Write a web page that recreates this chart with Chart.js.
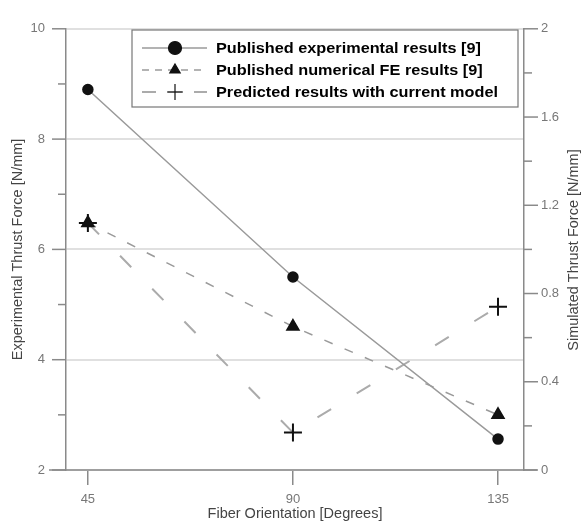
<!DOCTYPE html>
<html>
<head>
<meta charset="utf-8">
<script src="https://cdn.jsdelivr.net/npm/chart.js@4.4.1/dist/chart.umd.min.js"></script>
<style>
  html, body { margin: 0; padding: 0; background: #fff; }
  #wrap { width: 581px; height: 523px; }
</style>
</head>
<body>
<div id="wrap"><canvas id="chart" width="581" height="523"></canvas></div>
<script>
// DATA
const angles = [45, 90, 135];
const experimental = [8.9, 5.5, 2.56];   // left axis
const numericalFE = [6.48, 4.6, 3.0];    // left axis
const predicted = [1.12, 0.17, 0.74];    // right axis
const legendLabels = [
  'Published experimental results [9]',
  'Published numerical FE results [9]',
  'Predicted results with current model'
];
const xTitle = 'Fiber Orientation [Degrees]';
const leftTitle = 'Experimental Thrust Force [N/mm]';
const rightTitle = 'Simulated Thrust Force [N/mm]';

const pts = arr => angles.map((a, i) => ({x: a, y: arr[i]}));
const axisGray = '#8a8a8a';

// extra drawing: minor/major ticks on y axes, long x axis line, legend box, right title
const decor = {
  id: 'decor',
  afterDraw(chart) {
    const ctx = chart.ctx;
    const area = chart.chartArea;
    const yL = chart.scales.yL, yR = chart.scales.yR;
    ctx.save();
    ctx.strokeStyle = axisGray;
    ctx.lineWidth = 1.5;
    // y ticks
    yL.ticks.forEach(t => {
      const y = yL.getPixelForValue(t.value);
      const len = Math.round(t.value) % 2 === 0 ? 14 : 8;
      ctx.beginPath(); ctx.moveTo(area.left - len, y); ctx.lineTo(area.left, y); ctx.stroke();
    });
    yR.ticks.forEach(t => {
      const y = yR.getPixelForValue(t.value);
      const len = Math.round(t.value * 10) % 4 === 0 ? 14 : 8;
      ctx.beginPath(); ctx.moveTo(area.right, y); ctx.lineTo(area.right + len, y); ctx.stroke();
    });
    // x axis line runs past both y axes
    ctx.beginPath(); ctx.moveTo(area.left - 17, area.bottom); ctx.lineTo(area.right + 13, area.bottom); ctx.stroke();

    // right title, reads bottom to top like the left one
    ctx.fillStyle = '#444';
    ctx.font = '14.5px Arial, "Liberation Sans", sans-serif';
    ctx.textAlign = 'center';
    ctx.textBaseline = 'middle';
    ctx.translate(574, 250);
    ctx.rotate(-Math.PI / 2);
    ctx.fillText(rightTitle, 0, 0);
    ctx.restore();

    // legend
    ctx.save();
    ctx.strokeStyle = '#777';
    ctx.lineWidth = 1.2;
    ctx.strokeRect(132, 30, 386, 77);
    ctx.font = 'bold 15px Arial, "Liberation Sans", sans-serif';
    const sx = 282 / ctx.measureText(legendLabels[2]).width;
    chart.data.datasets.forEach((ds, i) => {
      const y = 48 + i * 22;
      ctx.save();
      ctx.strokeStyle = ds.borderColor;
      ctx.lineWidth = ds.borderWidth;
      ctx.setLineDash(i === 0 ? [] : i === 1 ? [7, 6] : [14, 12]);
      ctx.beginPath(); ctx.moveTo(142, y); ctx.lineTo(207, y); ctx.stroke();
      ctx.restore();
      ctx.fillStyle = '#111';
      ctx.strokeStyle = '#111';
      Chart.helpers.drawPoint(ctx, {
        pointStyle: ds.pointStyle,
        radius: i === 0 ? 6.5 : ds.pointRadius - 1,
        borderWidth: ds.pointBorderWidth || 1,
        rotation: 0
      }, 175, y);
      ctx.save();
      ctx.fillStyle = '#000';
      ctx.textAlign = 'left';
      ctx.textBaseline = 'middle';
      ctx.translate(216, y + 1);
      ctx.scale(sx, 1);
      ctx.fillText(legendLabels[i], 0, 0);
      ctx.restore();
    });
    ctx.restore();
  }
};

new Chart(document.getElementById('chart'), {
  type: 'line',
  data: {
    datasets: [
      {
        label: legendLabels[0], data: pts(experimental), yAxisID: 'yL',
        borderColor: '#9a9a9a', borderWidth: 1.5,
        pointStyle: 'circle', pointRadius: 5,
        pointBackgroundColor: '#111', pointBorderColor: '#111'
      },
      {
        label: legendLabels[1], data: pts(numericalFE), yAxisID: 'yL',
        borderColor: '#9a9a9a', borderWidth: 1.5, borderDash: [9, 13],
        pointStyle: 'triangle', pointRadius: 7,
        pointBackgroundColor: '#111', pointBorderColor: '#111'
      },
      {
        label: legendLabels[2], data: pts(predicted), yAxisID: 'yR',
        borderColor: '#ababab', borderWidth: 2, borderDash: [16, 30],
        pointStyle: 'cross', pointRadius: 9, pointBorderWidth: 2,
        pointBackgroundColor: '#111', pointBorderColor: '#111'
      }
    ]
  },
  options: {
    responsive: false,
    animation: false,
    layout: { padding: { top: 16, left: 0, right: 0, bottom: 0 } },
    plugins: { legend: { display: false }, tooltip: { enabled: false } },
    scales: {
      x: {
        type: 'linear', min: 40.2, max: 140.7,
        afterBuildTicks: s => { s.ticks = angles.map(v => ({value: v})); },
        afterFit: s => { s.height = 53; },
        grid: { drawOnChartArea: false, drawTicks: true, tickLength: 15, color: axisGray, lineWidth: 1.5 },
        border: { display: false },
        ticks: { color: '#777', font: { size: 13, family: 'Arial' }, padding: 7, maxRotation: 0 },
        title: { display: true, text: xTitle, color: '#444', font: { size: 14.5, family: 'Arial' }, padding: { top: 0, bottom: 0 } }
      },
      yL: {
        type: 'linear', position: 'left', min: 2, max: 10,
        afterFit: s => { s.width = 66; },
        ticks: {
          stepSize: 1, color: '#777', font: { size: 13, family: 'Arial' }, padding: 21,
          callback: v => (Math.round(v) % 2 === 0 ? String(v) : '')
        },
        grid: {
          drawTicks: false, lineWidth: 2,
          color: c => (c.tick && Math.round(c.tick.value) % 2 === 0 ? '#e0e0e0' : 'rgba(0,0,0,0)')
        },
        border: { display: true, color: axisGray, width: 1.5 },
        title: { display: true, text: leftTitle, color: '#444', font: { size: 14.5, family: 'Arial' }, padding: { top: 9, bottom: 0 } }
      },
      yR: {
        type: 'linear', position: 'right', min: 0, max: 2,
        afterFit: s => { s.width = 57; },
        ticks: {
          stepSize: 0.2, color: '#777', font: { size: 13, family: 'Arial' }, padding: 17,
          callback: v => (Math.round(v * 10) % 4 === 0 ? String(Math.round(v * 10) / 10) : '')
        },
        grid: { drawOnChartArea: false, drawTicks: false },
        border: { display: true, color: axisGray, width: 1.5 }
      }
    }
  },
  plugins: [decor]
});
</script>
</body>
</html>
